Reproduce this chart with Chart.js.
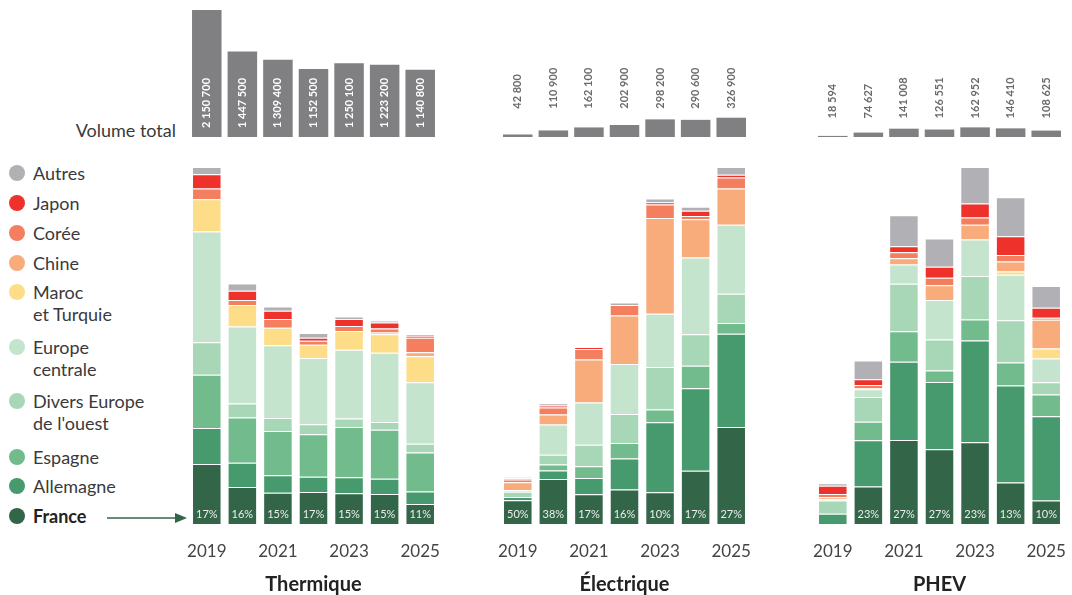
<!DOCTYPE html>
<html>
<head>
<meta charset="utf-8">
<script src="https://cdn.jsdelivr.net/npm/chart.js@4"></script>
<style>
  body { margin: 0; width: 1072px; height: 595px; background: #fff; position: relative; overflow: hidden; font-family: Lato, "Noto Sans", sans-serif; }
  .abs { position: absolute; }
  canvas { display: block; }
  .row { position: absolute; left: 33px; font-size: 18px; color: #3a3a3a; line-height: 22px; }
  .dot { position: absolute; left: -24px; top: 3px; width: 16px; height: 16px; border-radius: 50%; }
  .title { position: absolute; top: 571px; width: 249px; text-align: center; font-size: 20px; font-weight: 700; color: #222; }
</style>
</head>
<body>

<div class="abs" style="left:30px;top:119px;width:146px;text-align:right;font-size:18px;color:#3a3a3a;">Volume total</div>
<div id="legend"></div>
<svg class="abs" style="left:105px;top:510px" width="84" height="16">
  <line x1="2" y1="8" x2="72" y2="8" stroke="#336548" stroke-width="1.5"/>
  <polygon points="70,3 82,8 70,13" fill="#336548"/>
</svg>

<div class="abs" style="left:189px;top:0"><canvas id="topTh" width="249" height="137"></canvas></div>
<div class="abs" style="left:500px;top:0"><canvas id="topEl" width="249" height="137"></canvas></div>
<div class="abs" style="left:815px;top:0"><canvas id="topPh" width="249" height="137"></canvas></div>

<div class="abs" style="left:179px;top:166px"><canvas id="mainTh" width="269" height="415"></canvas></div>
<div class="abs" style="left:490px;top:166px"><canvas id="mainEl" width="269" height="415"></canvas></div>
<div class="abs" style="left:805px;top:166px"><canvas id="mainPh" width="269" height="415"></canvas></div>

<div class="title" style="left:189px">Thermique</div>
<div class="title" style="left:500px">Électrique</div>
<div class="title" style="left:815px">PHEV</div>

<script>
const years = ['2019', '2020', '2021', '2022', '2023', '2024', '2025'];
const yearTicks = ['2019', '', '2021', '', '2023', '', '2025'];

// bottom to top of each stack
const countries = ['France', 'Allemagne', 'Espagne', "Divers Europe de l'ouest", 'Europe centrale',
    'Maroc et Turquie', 'Chine', 'Corée', 'Japon', 'Autres'];

const volThermique = [2150700, 1447500, 1309400, 1152500, 1250100, 1223200, 1140800];
const volElectrique = [42800, 110900, 162100, 202900, 298200, 290600, 326900];
const volPhev = [18594, 74627, 141008, 126551, 162952, 146410, 108625];

// volumes par pays, en milliers
const segThermique = [
    [361, 223, 188, 193, 185, 180, 121],   // France
    [217, 146, 105, 91, 97, 92, 74],       // Allemagne
    [321, 273, 267, 256, 302, 296, 235],   // Espagne
    [195, 84, 79, 61, 52, 46, 54],         // Divers Europe de l'ouest
    [667, 463, 438, 398, 413, 418, 370],   // Europe centrale
    [195, 130, 105, 81, 113, 110, 157],    // Maroc et Turquie
    [0, 0, 0, 0, 0, 12, 24],               // Chine
    [64, 30, 53, 24, 30, 24, 87],          // Corée
    [86, 56, 49, 18, 42, 36, 10],          // Japon
    [44, 44, 26, 28, 16, 10, 8]            // Autres
];
const segElectrique = [
    [21.7, 41.3, 27.2, 31.5, 29.0, 48.7, 88.8],
    [3.1, 7.8, 15.0, 28.5, 64.2, 75.6, 85.5],
    [0, 5.4, 10.7, 14.2, 11.6, 20.6, 9.8],
    [4.7, 9.0, 19.8, 26.6, 39.1, 29.0, 26.9],
    [1.6, 27.7, 38.5, 45.7, 48.6, 70.2, 63.2],
    [0, 0, 0, 0, 0, 0, 0],
    [7.1, 9.0, 39.4, 44.5, 87.7, 35.1, 33.0],
    [2.5, 6.6, 9.8, 9.7, 12.5, 3.0, 10.1],
    [1.2, 1.8, 1.8, 0, 2.1, 4.8, 2.7],
    [0.9, 2.1, 0, 2.1, 3.4, 3.6, 7.0]
];
const segPhev = [
    [0, 17.1, 38.3, 34.1, 37.3, 18.9, 10.7],
    [4.7, 21.1, 35.7, 30.7, 46.4, 44.3, 38.5],
    [0, 8.4, 14.0, 5.2, 9.6, 10.5, 9.9],
    [6.0, 11.4, 21.6, 14.2, 19.9, 19.3, 5.6],
    [0.6, 3.5, 8.8, 18.0, 16.6, 20.7, 10.8],
    [0, 0, 0, 0, 0, 1.5, 4.6],
    [0.9, 0.5, 2.9, 6.7, 6.8, 4.6, 13.1],
    [1.5, 1.4, 2.7, 3.5, 3.2, 3.0, 0.9],
    [3.8, 2.7, 2.7, 5.0, 6.5, 8.5, 4.6],
    [1.1, 8.5, 14.2, 12.9, 16.6, 17.8, 9.9]
];

const pctThermique = ['17%', '16%', '15%', '17%', '15%', '15%', '11%'];
const pctElectrique = ['50%', '38%', '17%', '16%', '10%', '17%', '27%'];
const pctPhev = ['', '23%', '27%', '27%', '23%', '13%', '10%'];

const colors = ['#336548', '#479a6d', '#72bb8c', '#a8d7b7', '#c4e4cd',
    '#fedd88', '#f8ab7b', '#f37f5f', '#ee312b', '#b1b1b5'];

// legend, top to bottom
const legendRows = [
    { text: 'Autres', c: 9, top: 162 },
    { text: 'Japon', c: 8, top: 192 },
    { text: 'Corée', c: 7, top: 222 },
    { text: 'Chine', c: 6, top: 252 },
    { text: 'Maroc<br>et Turquie', c: 5, top: 281 },
    { text: 'Europe<br>centrale', c: 4, top: 336 },
    { text: 'Divers Europe<br>de l\'ouest', c: 3, top: 390 },
    { text: 'Espagne', c: 2, top: 446 },
    { text: 'Allemagne', c: 1, top: 475 },
    { text: '<b style="color:#222">France</b>', c: 0, top: 505 }
];
document.getElementById('legend').innerHTML = legendRows.map(r =>
    `<div class="row" style="top:${r.top}px"><span class="dot" style="background:${colors[r.c]}"></span>${r.text}</div>`
).join('');

const fmt = n => String(n).replace(/\B(?=(\d{3})+(?!\d))/g, ' ');

// percentages in the France segment + year labels under the bars
const barLabels = {
    id: 'barLabels',
    afterDatasetsDraw(chart, args, opts) {
        const meta = chart.getDatasetMeta(0);
        const xScale = chart.scales.x;
        const ctx = chart.ctx;
        const bottom = chart.chartArea.bottom;
        ctx.save();
        ctx.textAlign = 'center';
        ctx.textBaseline = 'middle';
        ctx.fillStyle = '#eeeeee';
        ctx.font = '11px Lato';
        meta.data.forEach((bar, i) => {
            if (opts.labels[i]) ctx.fillText(opts.labels[i], bar.x, bottom - 10);
        });
        ctx.fillStyle = '#444444';
        ctx.font = '17px Lato';
        yearTicks.forEach((t, i) => {
            if (t) ctx.fillText(t, xScale.getPixelForValue(i), bottom + 28);
        });
        ctx.restore();
    }
};

const volLabels = {
    id: 'volLabels',
    afterDatasetsDraw(chart, args, opts) {
        const meta = chart.getDatasetMeta(0);
        const ctx = chart.ctx;
        const top = Math.min(...meta.data.map(b => b.y));
        ctx.save();
        ctx.font = '700 11px Lato';
        ctx.fillStyle = opts.inside ? '#ffffff' : '#6a6a6d';
        ctx.textAlign = 'left';
        ctx.textBaseline = 'middle';
        meta.data.forEach((bar, i) => {
            const y0 = opts.inside ? bar.base - 9 : top - 9;
            ctx.save();
            ctx.translate(bar.x, y0);
            ctx.rotate(-Math.PI / 2);
            ctx.fillText(fmt(opts.labels[i]), 0, 0);
            ctx.restore();
        });
        ctx.restore();
    }
};

function topChart(id, vols, inside) {
    new Chart(document.getElementById(id), {
        type: 'bar',
        data: {
            labels: years,
            datasets: [{ data: vols, backgroundColor: '#808083', barPercentage: 0.83, categoryPercentage: 1 }]
        },
        options: {
            responsive: false,
            animation: false,
            layout: { padding: { top: 10 } },
            plugins: { legend: { display: false }, tooltip: { enabled: false }, volLabels: { labels: vols, inside: inside } },
            scales: {
                x: { display: false },
                y: { display: false, min: 0, max: Math.max(...volThermique) }
            }
        },
        plugins: [volLabels]
    });
}

function mainChart(id, segs, pcts) {
    const totals = years.map((y, i) => segs.reduce((s, row) => s + row[i], 0));
    new Chart(document.getElementById(id), {
        type: 'bar',
        data: {
            labels: years,
            datasets: segs.map((row, k) => ({
                label: countries[k],
                data: row,
                backgroundColor: colors[k],
                borderColor: 'rgba(255,255,255,0.55)',
                borderWidth: 1,
                barPercentage: 0.83,
                categoryPercentage: 1
            }))
        },
        options: {
            responsive: false,
            animation: false,
            layout: { padding: { top: 1, bottom: 57, left: 10, right: 10 } },
            plugins: { legend: { display: false }, tooltip: { enabled: false }, barLabels: { labels: pcts } },
            scales: {
                x: { stacked: true, display: false },
                y: { stacked: true, display: false, min: 0, max: Math.max(...totals) }
            }
        },
        plugins: [barLabels]
    });
}

topChart('topTh', volThermique, true);
topChart('topEl', volElectrique, false);
topChart('topPh', volPhev, false);

mainChart('mainTh', segThermique, pctThermique);
mainChart('mainEl', segElectrique, pctElectrique);
mainChart('mainPh', segPhev, pctPhev);
</script>
</body>
</html>
